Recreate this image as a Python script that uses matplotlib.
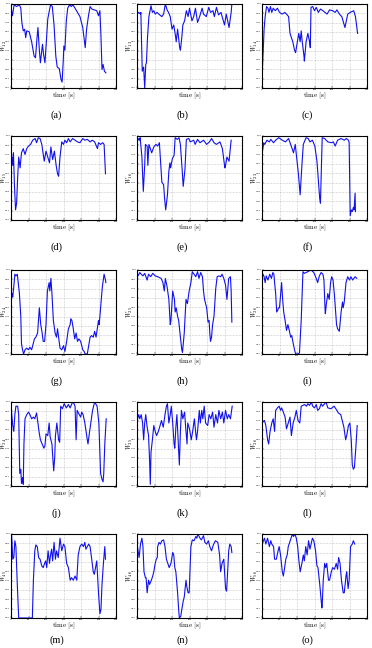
import numpy as np
import matplotlib
matplotlib.use("Agg")
import matplotlib.pyplot as plt

plt.rcParams['mathtext.fontset'] = 'cm'

# ---------------- data (time [s], normalised weight) ----------------
t_a = [0,4,9,16,24,28,31,35,39,42,45,52,59,66,70,74,77,81,84,88,90,93,97,101,105,110,113,118,123,128,132,138,143,146,149,151,154,158,162,167,172,177,183,190,197,205,210,212,216,221,226,231,238,245,250,254,257,260,263,267,271]
w_a = [0.96,0.86,0.99,0.97,0.99,0.95,0.78,0.68,0.7,0.6,0.68,0.67,0.55,0.38,0.36,0.58,0.72,0.45,0.3,0.45,0.52,0.4,0.3,0.55,0.82,0.93,0.99,0.97,0.75,0.38,0.25,0.23,0.1,0.07,0.3,0.5,0.45,0.8,0.95,0.99,0.97,0.99,0.95,0.9,0.85,0.72,0.55,0.48,0.7,0.85,0.97,0.94,0.93,0.92,0.86,0.92,0.62,0.22,0.28,0.2,0.18]

t_b = [0,5,10,11,15,19,22,25,27,30,34,40,44,48,52,57,65,71,76,81,86,90,95,100,105,110,112,116,122,124,128,131,136,141,146,150,157,162,167,173,179,186,190,198,205,210,217,221,227,233,240,250,255,263,269,271]
w_b = [0.88,0.9,0.88,0.9,0.2,0.25,0.0,0.28,0.3,0.6,0.85,0.98,0.9,0.92,0.88,0.9,0.87,0.85,0.88,1.0,0.93,0.9,0.85,0.7,0.75,0.62,0.55,0.7,0.48,0.45,0.6,0.75,0.8,0.92,0.85,0.95,0.8,0.85,0.95,0.78,0.85,0.95,0.88,0.85,0.96,0.9,0.92,0.85,0.96,0.87,0.9,0.75,0.88,0.72,0.9,1.0]

t_c = [0,6,9,13,17,20,24,28,32,38,44,50,58,65,72,76,80,84,88,93,96,101,105,109,112,115,120,121,126,131,136,138,140,145,150,155,161,167,174,180,186,193,202,209,214,221,228,237,245,252,262,267,271,273]
w_c = [0.1,0.7,0.85,0.97,0.95,0.9,0.97,0.9,0.95,0.92,0.95,0.9,0.88,0.9,0.87,0.85,0.65,0.6,0.55,0.45,0.42,0.55,0.65,0.55,0.68,0.55,0.38,0.32,0.55,0.65,0.55,0.48,0.96,0.97,0.92,0.96,0.9,0.94,0.92,0.9,0.88,0.93,0.92,0.9,0.93,0.88,0.85,0.72,0.88,0.9,0.92,0.85,0.72,0.65]

t_d = [0,3,5,7,10,13,16,19,22,26,30,35,40,45,50,56,62,69,73,78,83,88,95,100,105,110,114,119,124,129,133,136,140,145,150,154,159,164,169,176,183,190,197,205,211,218,226,232,239,247,250,256,262,266,270]
w_d = [0.67,0.75,0.65,0.8,0.4,0.12,0.2,0.5,0.75,0.62,0.8,0.85,0.78,0.85,0.88,0.9,0.95,0.97,0.92,0.98,0.97,0.9,0.7,0.82,0.75,0.68,0.87,0.72,0.82,0.65,0.55,0.52,0.75,0.93,0.9,0.95,0.92,0.97,0.93,0.97,0.95,0.93,0.92,0.97,0.95,0.96,0.93,0.95,0.93,0.85,0.92,0.9,0.92,0.9,0.55]

t_e = [0,3,7,9,14,18,22,24,29,31,34,38,42,48,54,59,64,71,76,79,82,87,91,94,96,101,106,109,115,120,124,129,132,137,141,148,152,162,166,173,180,190,199,207,213,220,227,237,244,251,253,257,263,269]
w_e = [0.9,0.97,0.95,0.98,0.75,0.34,0.65,0.9,0.88,0.65,0.9,0.85,0.8,0.87,0.9,0.88,0.92,0.45,0.42,0.25,0.12,0.3,0.58,0.68,0.62,0.73,0.77,0.98,0.96,0.98,0.9,0.6,0.4,0.6,0.96,0.97,0.93,0.95,0.9,0.96,0.92,0.95,0.9,0.93,0.97,0.92,0.9,0.93,0.85,0.62,0.65,0.75,0.7,0.95]

t_f = [0,5,8,14,21,25,33,39,48,58,67,76,86,90,95,104,109,114,118,126,132,137,144,151,157,165,167,172,179,188,198,204,209,216,226,235,241,247,249,252,255,258,261,263,266,267]
w_f = [0.78,0.92,0.9,0.95,0.93,0.96,0.92,0.95,0.98,0.95,0.93,0.97,0.85,0.8,0.9,0.55,0.3,0.65,0.9,0.98,0.97,0.93,0.95,0.88,0.7,0.25,0.2,0.98,0.97,0.93,0.92,0.93,0.88,0.95,0.97,0.95,0.97,0.95,0.92,0.05,0.12,0.1,0.15,0.12,0.32,0.1]

t_g = [0,3,5,9,11,14,18,24,28,30,33,36,40,45,50,54,59,62,67,71,76,81,85,89,92,96,100,104,109,111,114,117,121,126,130,133,136,140,145,150,154,159,164,169,171,174,178,182,186,190,194,199,205,209,212,218,222,226,230,235,239,243,250,252,256,261,266,270,271]
w_g = [0.6,0.72,0.68,0.85,0.95,0.93,0.95,0.72,0.45,0.12,0.05,0.0,0.05,0.07,0.05,0.08,0.05,0.1,0.18,0.2,0.25,0.55,0.35,0.25,0.15,0.15,0.35,0.75,0.85,0.75,0.9,0.72,0.4,0.25,0.2,0.3,0.2,0.07,0.05,0.1,0.03,0.15,0.3,0.35,0.42,0.4,0.3,0.18,0.25,0.15,0.18,0.15,0.05,0.03,0.0,0.0,0.1,0.2,0.22,0.2,0.27,0.2,0.4,0.35,0.55,0.8,0.95,0.88,0.85]

t_h = [0,3,8,12,17,22,29,33,39,45,52,59,69,74,78,81,86,91,95,97,102,107,109,112,116,119,124,128,130,135,140,144,149,154,158,163,168,173,177,182,187,190,193,199,203,206,208,210,213,216,220,225,229,234,239,243,248,253,257,262,267,269,271]
w_h = [0.98,0.93,0.97,0.95,0.93,0.96,0.88,0.95,0.92,0.96,0.93,0.92,0.9,0.85,0.75,0.9,0.8,0.65,0.35,0.4,0.75,0.65,0.5,0.55,0.45,0.4,0.2,0.05,0.02,0.25,0.65,0.6,0.75,0.85,0.98,0.95,0.92,0.98,0.9,0.97,0.92,0.75,0.65,0.55,0.38,0.4,0.25,0.15,0.2,0.35,0.45,0.78,0.92,0.93,0.92,0.95,0.9,0.82,0.65,0.9,0.92,0.75,0.38]

t_i = [0,3,6,9,12,17,22,27,31,34,36,39,42,45,47,50,53,56,59,62,66,70,74,78,82,85,88,93,96,102,107,112,117,121,131,140,148,155,159,164,169,174,177,180,181,184,188,192,196,199,203,207,213,216,221,226,230,232,235,240,245,250,254,259,266,271]
w_i = [0.9,0.95,0.92,0.85,0.93,0.88,0.95,0.9,0.97,0.95,0.85,0.72,0.5,0.52,0.55,0.55,0.7,0.85,0.65,0.5,0.4,0.28,0.35,0.28,0.2,0.22,0.15,0.05,0.0,0.0,0.01,0.4,0.98,0.96,0.98,1.0,0.97,0.9,0.85,0.93,0.97,0.95,0.88,0.55,0.48,0.6,0.72,0.65,0.85,0.92,0.88,0.7,0.35,0.3,0.27,0.5,0.62,0.55,0.62,0.85,0.92,0.88,0.92,0.88,0.92,0.9]

t_j = [0,5,8,11,14,19,22,25,28,30,33,35,37,40,45,50,54,59,64,68,73,77,80,84,89,94,97,100,105,109,112,117,120,122,125,127,131,136,139,142,147,152,158,164,169,176,180,183,186,189,195,199,202,206,211,218,220,223,228,233,239,246,251,256,260,263,265,268,272]
w_j = [0.95,0.72,0.65,0.85,0.95,0.95,0.85,0.15,0.2,0.03,0.1,0.02,0.5,0.8,0.85,0.88,0.85,0.8,0.82,0.8,0.87,0.75,0.65,0.55,0.5,0.45,0.48,0.62,0.6,0.75,0.58,0.5,0.3,0.18,0.35,0.6,0.75,0.55,0.52,0.95,0.92,0.98,0.93,0.97,0.93,1.0,0.98,0.95,0.55,0.9,0.85,0.82,0.88,0.85,0.75,0.55,0.5,0.6,0.75,0.9,1.0,0.95,0.75,0.15,0.08,0.05,0.15,0.5,0.8]

t_k = [0,5,8,12,16,19,22,25,29,33,36,38,40,44,48,52,56,61,66,70,75,80,84,87,91,95,98,102,106,108,111,114,119,121,124,127,131,136,139,143,145,150,155,159,164,168,170,173,178,181,185,188,192,196,202,206,211,216,220,225,230,234,239,244,248,253,258,262,267,272]
w_k = [0.78,0.85,0.8,0.85,0.75,0.55,0.75,0.85,0.7,0.6,0.3,0.02,0.4,0.55,0.72,0.65,0.6,0.65,0.72,0.78,0.7,0.85,0.95,0.98,0.75,0.85,0.95,0.75,0.5,0.45,0.7,0.85,0.42,0.25,0.65,0.9,0.8,0.88,0.7,0.5,0.75,0.68,0.55,0.65,0.8,0.62,0.55,0.65,0.9,0.75,0.9,0.8,0.95,0.75,0.72,0.85,0.8,0.88,0.7,0.85,0.75,0.9,0.8,0.88,0.75,0.9,0.8,0.85,0.8,0.95]

t_l = [0,7,11,16,19,23,28,32,36,39,44,49,53,56,61,66,70,75,80,84,89,94,98,103,108,112,122,127,131,136,141,145,150,155,159,164,169,173,183,188,197,206,214,218,225,234,239,242,247,251,255,258,261,264,268,272]
w_l = [0.75,0.78,0.72,0.55,0.5,0.65,0.75,0.8,0.65,0.9,0.93,0.95,0.9,0.93,0.88,0.82,0.68,0.75,0.82,0.6,0.75,0.82,0.9,0.78,0.75,0.95,0.97,0.95,0.98,0.96,1.0,0.95,0.93,0.97,0.9,0.92,0.98,0.95,1.0,0.93,0.92,0.95,0.9,0.87,0.85,0.7,0.55,0.6,0.72,0.75,0.55,0.25,0.2,0.22,0.45,0.72]

t_m = [0,2,5,8,11,14,18,22,30,45,59,61,64,68,71,75,79,83,88,92,96,99,102,106,110,113,116,119,123,127,130,135,140,145,150,154,159,164,169,173,178,183,188,192,197,202,207,211,214,218,222,226,230,235,238,245,250,254,257,260,264,268,270]
w_m = [0.7,0.98,0.7,0.72,0.92,0.85,0.4,0.0,0.0,0.0,0.0,0.0,0.45,0.8,0.87,0.85,0.72,0.7,0.62,0.6,0.65,0.68,0.6,0.8,0.65,0.75,0.82,0.68,0.9,0.7,0.8,0.72,0.95,0.8,0.88,0.85,0.65,0.6,0.45,0.48,0.45,0.5,0.45,0.75,0.85,0.88,0.85,0.9,0.82,0.85,0.88,0.85,0.72,0.55,0.52,0.68,0.3,0.05,0.1,0.4,0.65,0.85,0.7]

t_n = [0,3,6,10,14,17,20,24,26,29,33,36,41,45,48,52,55,58,59,63,67,71,76,80,84,88,92,97,102,105,108,111,116,119,121,125,128,132,135,140,142,146,149,154,158,163,168,171,174,180,184,190,194,199,204,208,213,218,224,231,236,239,243,248,253,256,259,262,265,269,271]
w_n = [0.9,0.8,0.72,0.88,0.95,0.85,0.55,0.48,0.48,0.3,0.45,0.4,0.45,0.5,0.55,0.65,0.7,0.72,0.85,0.9,0.88,0.92,0.93,0.85,0.7,0.65,0.6,0.65,0.78,0.75,0.6,0.55,0.3,0.1,0.0,0.02,0.1,0.2,0.25,0.45,0.38,0.3,0.3,0.85,0.93,0.92,0.97,0.95,1.0,0.95,0.93,0.98,0.9,0.88,0.92,0.85,0.8,0.87,0.92,0.9,0.75,0.55,0.65,0.7,0.35,0.32,0.55,0.8,0.88,0.85,0.78]

t_o = [0,4,7,11,16,21,25,28,33,36,41,46,49,53,58,61,64,68,72,75,79,83,87,90,94,98,102,105,109,114,118,121,125,129,133,137,144,148,153,157,160,165,171,172,175,179,182,185,190,193,198,202,207,212,216,219,223,227,232,235,240,242,246,249,253,258,261,265]
w_o = [0.88,0.92,0.95,0.88,0.95,0.85,0.92,0.88,0.85,0.7,0.7,0.8,0.85,0.75,0.55,0.5,0.58,0.7,0.75,0.85,0.9,0.95,1.0,0.97,1.0,0.95,0.85,0.7,0.55,0.65,0.75,0.68,0.85,0.75,0.92,0.82,0.95,0.92,0.8,0.62,0.6,0.4,0.12,0.15,0.45,0.65,0.6,0.65,0.45,0.45,0.55,0.6,0.58,0.65,0.58,0.72,0.65,0.45,0.3,0.3,0.5,0.55,0.35,0.45,0.85,0.88,0.92,0.88]

times = [t_a, t_b, t_c, t_d, t_e, t_f, t_g, t_h, t_i, t_j, t_k, t_l, t_m, t_n, t_o]
weights = [w_a, w_b, w_c, w_d, w_e, w_f, w_g, w_h, w_i, w_j, w_k, w_l, w_m, w_n, w_o]
pairs = ["12", "13", "14", "15", "16", "23", "24", "25", "26", "34", "35", "36", "45", "46", "56"]
captions = ["(a)", "(b)", "(c)", "(d)", "(e)", "(f)", "(g)", "(h)", "(i)", "(j)", "(k)", "(l)", "(m)", "(n)", "(o)"]
x_ticks = [0, 50, 100, 150, 200, 250, 300]

# ---------------- figure ----------------
W, H = 372, 648
fig = plt.figure(figsize=(W / 100, H / 100), dpi=100)
col_left = [11, 137, 262]
row_top = [4, 136, 270, 402, 534]
cap_y = [115, 247, 381, 513, 640]
aw, ah = 105, 84

for k in range(15):
    r, c = divmod(k, 3)
    l = col_left[c]
    tp = row_top[r]
    ax = fig.add_axes([l / W, 1 - (tp + ah) / H, aw / W, ah / H])
    ax.plot(times[k], weights[k], color='#1010ee', lw=0.8)
    ax.set_xlim(0, 300)
    ax.set_ylim(0, 1)
    ax.set_xticks(x_ticks)
    yt = np.linspace(0, 1, 10)
    ax.set_yticks(yt)
    ax.set_yticklabels([f"{v:.2f}" for v in yt])
    ax.tick_params(labelsize=1.6, length=1.2, width=0.3, direction='in', pad=0.6)
    ax.grid(True, linestyle=':', color='#999999', lw=0.4)
    for s in ax.spines.values():
        s.set_linewidth(0.8)
    ax.set_xlabel(r"$\mathrm{time\ [s]}$", fontsize=5, labelpad=1)
    ax.set_ylabel(r"$W_{%s}$" % pairs[k], fontsize=4.5, va='center')
    ax.yaxis.set_label_coords(-6.6 / aw, 0.5)
    fig.text((l + aw / 2 - 7) / W, 1 - cap_y[r] / H, captions[k],
             fontsize=7.5, family='Liberation Serif', ha='center', va='center')

fig.savefig("out.png", dpi=100)
